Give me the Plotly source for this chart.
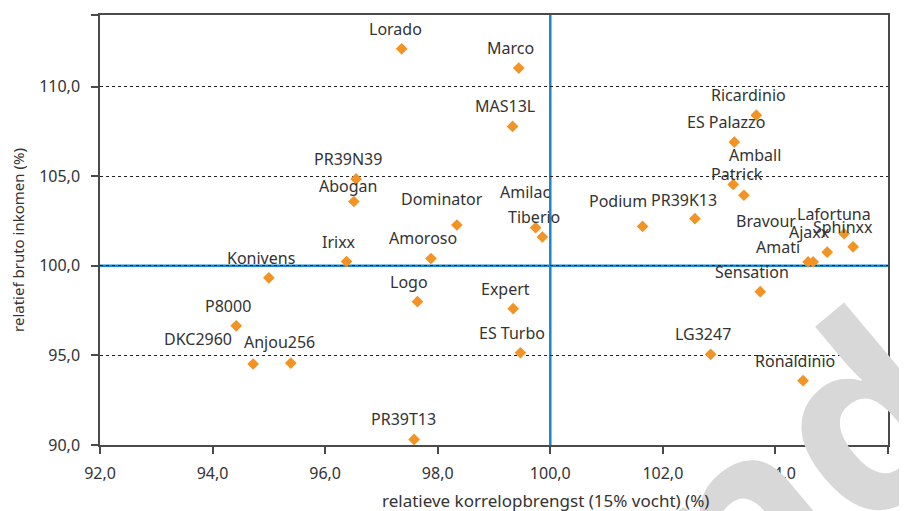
import plotly.graph_objects as go

names = ["Lorado", "Marco", "MAS13L", "Ricardinio", "ES Palazzo", "PR39N39", "Abogan",
         "Amball", "Patrick", "Dominator", "Amilac", "Tiberio", "Podium", "PR39K13",
         "Lafortuna", "Sphinxx", "Ajaxx", "Amati", "Bravour", "Irixx", "Amoroso",
         "Konivens", "Logo", "Sensation", "Expert", "P8000", "DKC2960", "Anjou256",
         "ES Turbo", "LG3247", "Ronaldinio", "PR39T13"]
korrel = [97.36, 99.44, 99.33, 103.66, 103.27, 96.55, 96.51,
          103.44, 103.25, 98.34, 99.74, 99.86, 101.64, 102.57,
          105.22, 105.38, 104.92, 104.58, 104.67, 96.38, 97.88,
          95.00, 97.64, 103.73, 99.34, 94.42, 94.72, 95.39,
          99.47, 102.85, 104.49, 97.58]
inkomen = [112.11, 111.04, 107.78, 108.41, 106.91, 104.85, 103.59,
           103.94, 104.54, 102.28, 102.13, 101.61, 102.20, 102.63,
           101.79, 101.06, 100.76, 100.22, 100.22, 100.24, 100.41,
           99.33, 98.00, 98.56, 97.61, 96.65, 94.52, 94.57,
           95.15, 95.06, 93.59, 90.31]
x_ticks = [92, 94, 96, 98, 100, 102, 104, 106]
y_ticks = [90, 95, 100, 105, 110]
y_max = 114

# label offsets in pixels (style, not data)
default_shift = (-8, 20)
label_shift = {
    "Lorado": (-6, 20), "Abogan": (-6, 16), "Amball": (11, 40), "Patrick": (4, 10),
    "Dominator": (-15, 26), "Amilac": (-11, 36), "Podium": (-25, 25),
    "Lafortuna": (-10, 20), "Sphinxx": (-10, 20), "Ajaxx": (-18, 20),
    "Amati": (-30, 15), "Bravour": (-47, 41), "DKC2960": (-55, 25),
    "Anjou256": (-11, 21), "PR39T13": (-11, 20), "PR39K13": (-11, 19),
}

FONT = "Noto Sans"
TXT = "#333333"
BLUE = "#1a87c9"
ORANGE = "#f39325"
AXIS = "#4a4a4a"

# plot area in window pixels: x 100..888, y 13..445
def px(xp):
    return (xp - 100) / 788

def py(yp):
    return (445 - yp) / 432

fig = go.Figure()
fig.add_trace(go.Scatter(
    x=korrel, y=inkomen, mode="markers",
    marker=dict(symbol="diamond", size=9, color=ORANGE, line=dict(width=0)),
    hovertext=names, showlegend=False,
))

annotations = []
# light grey watermark
annotations.append(dict(x=px(795), y=py(465), xref="paper", yref="paper",
                        text="<b>nd</b>", showarrow=False, textangle=-40,
                        xanchor="center", yanchor="middle",
                        font=dict(family=FONT, size=250, color="#d8d8d8")))
for n, xv, yv in zip(names, korrel, inkomen):
    dx, dy = label_shift.get(n, default_shift)
    annotations.append(dict(x=xv, y=yv, xref="x", yref="y", text=n, showarrow=False,
                            xshift=dx, yshift=dy, font=dict(family=FONT, size=16, color=TXT)))

annotations.append(dict(x=px(545), y=py(501), xref="paper", yref="paper",
                        text="relatieve korrelopbrengst (15% vocht) (%)", showarrow=False,
                        xanchor="center", yanchor="middle",
                        font=dict(family=FONT, size=17, color=TXT)))
annotations.append(dict(x=px(18), y=py(239), xref="paper", yref="paper",
                        text="relatief bruto inkomen (%)", showarrow=False, textangle=-90,
                        xanchor="center", yanchor="middle",
                        font=dict(family=FONT, size=15, color=TXT)))

fig.add_shape(type="line", xref="x", yref="paper", x0=100, x1=100, y0=0, y1=1,
              line=dict(color=BLUE, width=2.5), layer="between")
fig.add_shape(type="line", xref="paper", yref="y", x0=0, x1=1, y0=100, y1=100,
              line=dict(color=BLUE, width=2.5), layer="between")

y_tickvals = y_ticks + [y_max]
y_ticktext = [f"{v:.1f}".replace(".", ",") for v in y_ticks] + [""]

# the page body has an 8px margin, so the figure starts at (8, 8)
fig.update_layout(
    width=899, height=503,
    margin=dict(l=92, r=19, t=5, b=66),
    paper_bgcolor="white", plot_bgcolor="white",
    separators=",.",
    annotations=annotations,
    font=dict(family=FONT, size=15, color=TXT),
    xaxis=dict(range=[92, 106], tickvals=x_ticks, tickformat=".1f",
               showgrid=False, zeroline=False,
               showline=True, linecolor=AXIS, linewidth=1.5, mirror=True,
               ticks="outside", ticklen=7, tickcolor=AXIS, tickwidth=1.5,
               ticklabelstandoff=6,
               tickfont=dict(family=FONT, size=16, color=TXT)),
    yaxis=dict(range=[90, y_max], tickvals=y_tickvals, ticktext=y_ticktext,
               showgrid=True, gridcolor="#222222", griddash="dot", gridwidth=1,
               zeroline=False,
               showline=True, linecolor=AXIS, linewidth=1.5, mirror=True,
               ticks="outside", ticklen=7, tickcolor=AXIS, tickwidth=1.5,
               ticklabelstandoff=8,
               tickfont=dict(family=FONT, size=16, color=TXT)),
)

fig.write_html("out.html")
